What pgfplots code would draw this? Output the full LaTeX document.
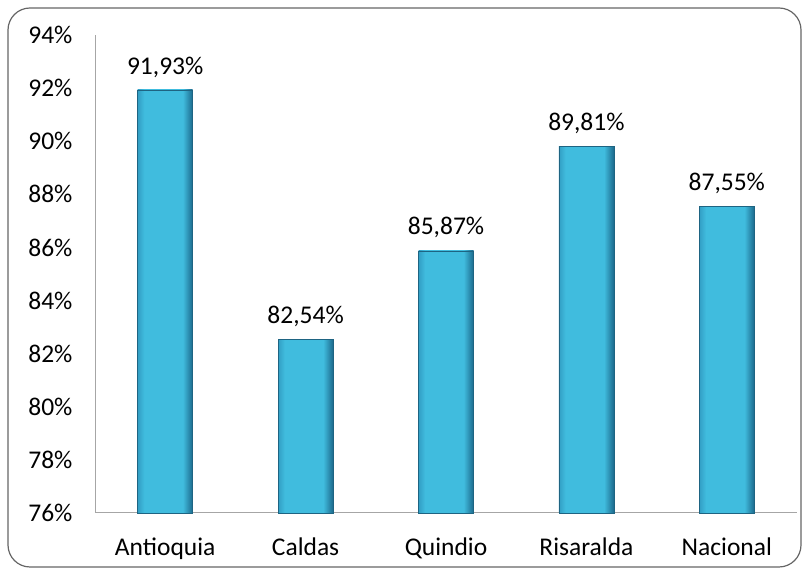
\documentclass[border=0pt]{standalone}
\usepackage{fontspec}
\setmainfont{Carlito}
\usepackage{pgfplots}
\pgfplotsset{compat=1.18}

\definecolor{barmid}{RGB}{64,188,222}
\definecolor{barleft}{RGB}{50,158,196}
\definecolor{barright}{RGB}{28,105,140}
\definecolor{baredge}{RGB}{30,100,130}
% the path is fitted to the inner 25bp..75bp of the shading
\pgfdeclarehorizontalshading{barshade}{100bp}{color(0bp)=(barleft); color(25bp)=(barleft); color(31bp)=(barmid); color(66bp)=(barmid); color(75bp)=(barright); color(100bp)=(barright)}

\pgfplotsset{
  mybar/.style={ybar, bar width=55pt, bar shift=0pt, draw=baredge, line width=0.6pt,
    shading=barshade,
    nodes near coords={\pgfmathprintnumber[fixed,fixed zerofill,precision=2,use comma,assume math mode=true]{\pgfplotspointmeta}\%},
    every node near coord/.append style={font=\fontsize{25.5}{30}\selectfont, text=black, yshift=9pt}},
}

\begin{document}
\begin{tikzpicture}[x=1pt,y=1pt]
\useasboundingbox (0,0) rectangle (809,575);
\draw[gray!80!black, line width=1.2pt, rounded corners=22pt] (8,8) rectangle (801,567);
\begin{axis}[
    at={(95pt,62pt)}, anchor=south west,
    scale only axis,
    width=702pt, height=478pt,
    ymin=76, ymax=94,
    xmin=-0.5, xmax=4.5,
    ytick={76,78,...,94},
    yticklabel={\pgfmathprintnumber[assume math mode=true]{\tick}\%},
    xtick={0,1,2,3,4},
    xticklabels={Antioquia,Caldas,Quindio,Risaralda,Nacional},
    axis x line*=bottom, axis y line*=left,
    axis line style={gray!70, line width=1pt},
    major tick length=0pt,
    ticklabel style={font=\fontsize{25.5}{30}\selectfont, text=black},
    yticklabel style={xshift=-19pt},
    xticklabel style={yshift=-21pt},
    clip=false,
]
\addplot[mybar] coordinates {(0,91.93)};
\addplot[mybar] coordinates {(1,82.54)};
\addplot[mybar] coordinates {(2,85.87)};
\addplot[mybar] coordinates {(3,89.81)};
\addplot[mybar] coordinates {(4,87.55)};
\end{axis}
\end{tikzpicture}
\end{document}
